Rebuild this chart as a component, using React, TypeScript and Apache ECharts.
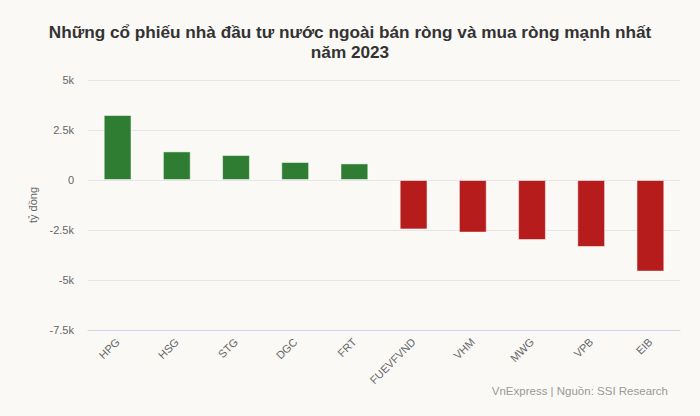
import React, { useEffect, useRef } from "react";
import * as echarts from "echarts";

const categories = ["HPG", "HSG", "STG", "DGC", "FRT", "FUEVFVND", "VHM", "MWG", "VPB", "EIB"];
const values = [3250, 1430, 1250, 900, 830, -2470, -2630, -3000, -3350, -4580];
const yTicks = { min: -7500, max: 5000, interval: 2500 };

const GREEN = "#2e7d32";
const RED = "#b71c1c";
const FONT = "'Liberation Sans', Arial, sans-serif";

export default function App() {
  const ref = useRef<HTMLDivElement>(null);
  useEffect(() => {
    if (!ref.current) return;
    const chart = echarts.init(ref.current, null, { renderer: "svg" });
    chart.setOption({
      animation: false,
      backgroundColor: "#faf9f6",
      textStyle: { fontFamily: FONT },
      title: {
        text: "Những cổ phiếu nhà đầu tư nước ngoài bán ròng và mua ròng mạnh nhất\nnăm 2023",
        left: "center",
        top: 17,
        textStyle: { fontFamily: FONT, fontSize: 17.2, fontWeight: "bold", color: "#333333", lineHeight: 20 },
      },
      graphic: [
        {
          type: "text",
          right: 32,
          top: 385,
          style: { text: "VnExpress | Nguồn: SSI Research", fill: "#999999", font: `11.5px ${FONT}` },
        },
      ],
      grid: { left: 88, right: 20, top: 80, bottom: 86 },
      xAxis: {
        type: "category",
        data: categories,
        axisLine: { show: true, onZero: false, lineStyle: { color: "#ccd6eb" } },
        axisTick: { show: false },
        axisLabel: { rotate: 45, color: "#666666", fontSize: 11, fontFamily: FONT, margin: 10, interval: 0 },
      },
      yAxis: {
        type: "value",
        min: yTicks.min,
        max: yTicks.max,
        interval: yTicks.interval,
        name: "tỷ đồng",
        nameLocation: "middle",
        nameGap: 50,
        nameTextStyle: { color: "#666666", fontSize: 11, fontFamily: FONT },
        axisLine: { show: false },
        axisTick: { show: false },
        splitLine: { lineStyle: { color: "#e6e6e6" } },
        axisLabel: {
          color: "#666666",
          fontSize: 11,
          fontFamily: FONT,
          margin: 14,
          formatter: (v: number) => (v === 0 ? "0" : `${v / 1000}k`),
        },
      },
      series: [
        {
          type: "bar",
          barWidth: "47%",
          data: values.map((v) => ({
            value: v,
            itemStyle: { color: v >= 0 ? GREEN : RED, borderColor: "rgba(255,255,255,0.5)", borderWidth: 1 },
          })),
        },
      ],
    });
    return () => chart.dispose();
  }, []);
  return <div ref={ref} style={{ width: 700, height: 416, position: "absolute", left: 0, top: 0 }} />;
}
